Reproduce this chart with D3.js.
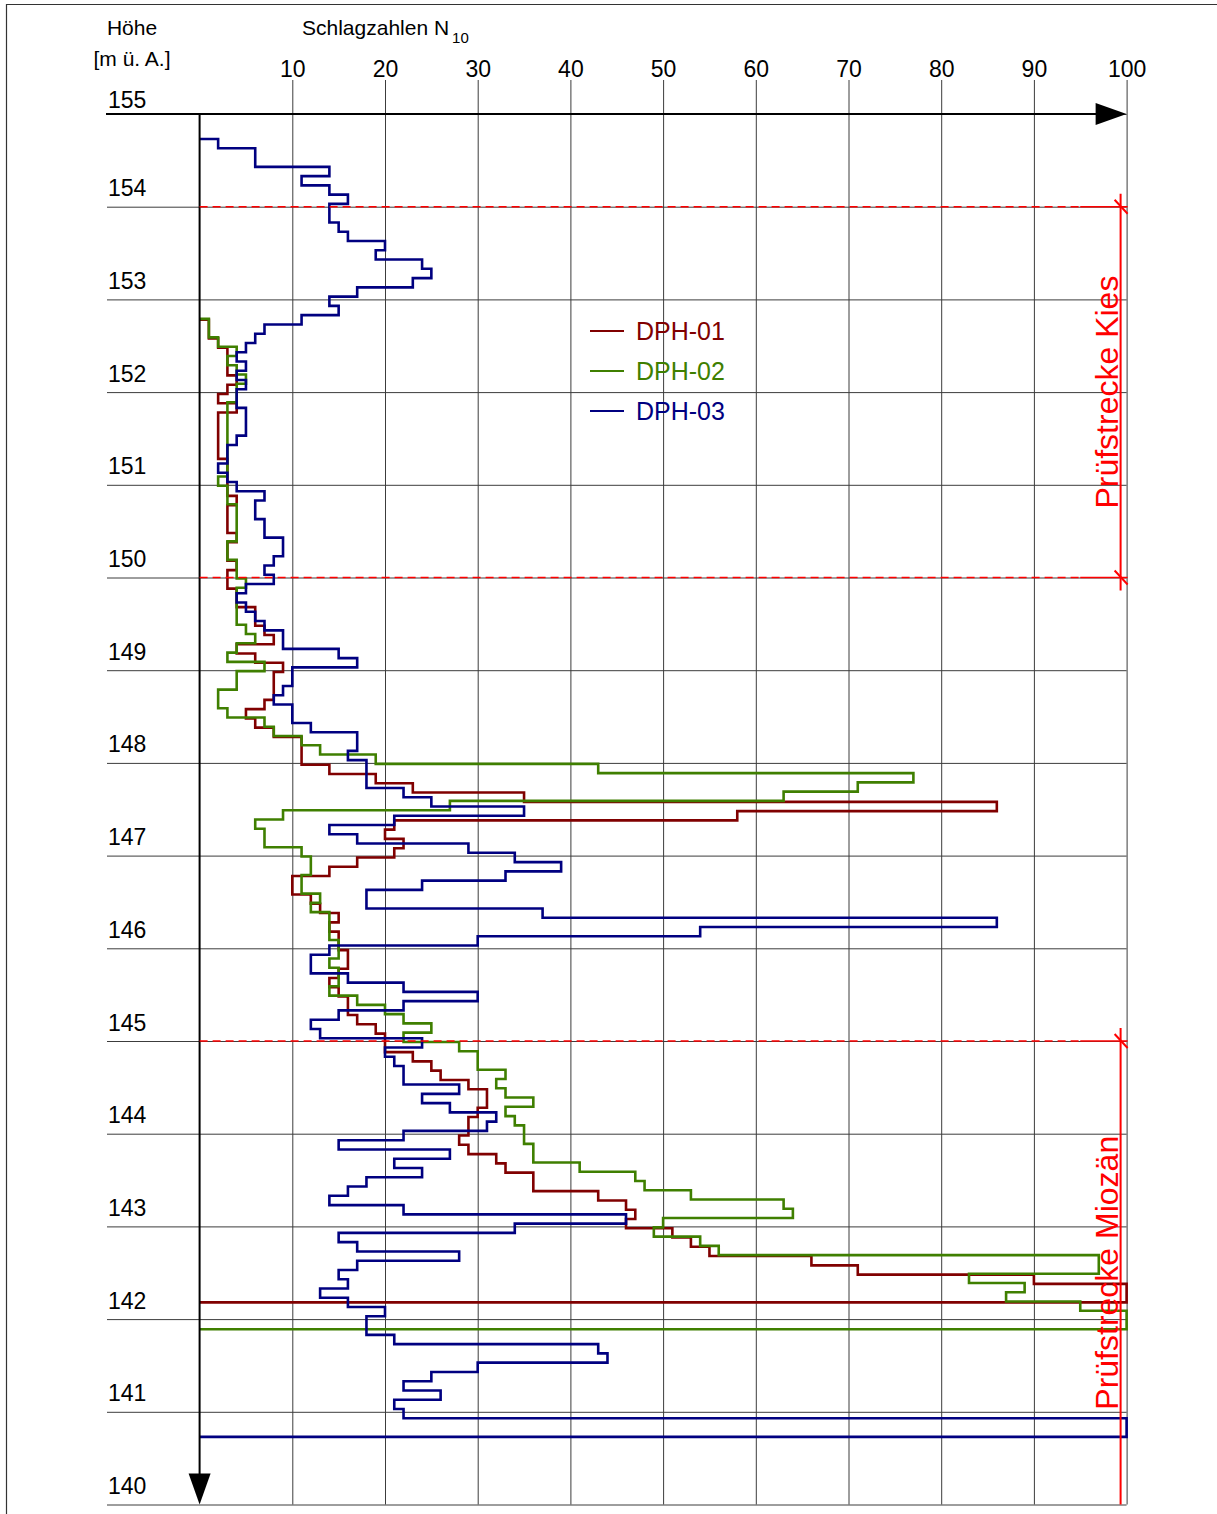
<!DOCTYPE html>
<html>
<head>
<meta charset="utf-8">
<script src="https://cdn.jsdelivr.net/npm/d3@7"></script>
<style>
  body { margin: 0; background: #fff; }
  svg { display: block; }
  text { font-family: "Liberation Sans", Arial, sans-serif; }
</style>
</head>
<body>
<svg id="chart" width="1217" height="1514"></svg>
<script>
// Elevation grid (m ü. A.) and blow-count grid (N10)
const elevationTicks = [155, 154, 153, 152, 151, 150, 149, 148, 147, 146, 145, 144, 143, 142, 141, 140];
const blowTicks = [10, 20, 30, 40, 50, 60, 70, 80, 90, 100];

// Dynamic probing series: blows per 10 cm, listed downward from the start elevation
const seriesNames = ["DPH-01", "DPH-02", "DPH-03"];
const seriesColors = ["#800000", "#3f7f00", "#000080"];
const startElevations = [152.78, 152.79, 154.73];
const stepLength = 0.1;

const dph01 = [
  1, 1, 2, 3, 3, 3, 4, 3, 2, 4,
  2, 2, 2, 2, 2, 3, 3, 3, 3, 4,
  3, 3, 3, 4, 3, 3, 4, 3, 3, 4,
  4, 6, 6, 7, 8, 4, 6, 9, 8, 8,
  8, 7, 5, 6, 8, 11, 11, 11, 14, 19,
  23, 35, 86, 58, 21, 20, 22, 21, 17, 14,
  10, 10, 12, 13, 15, 14, 15, 15, 16, 16,
  15, 14, 15, 16, 16, 17, 19, 20, 20, 23,
  25, 26, 29, 31, 31, 30, 29, 29, 28, 29,
  32, 33, 36, 36, 43, 46, 47, 46, 51, 53,
  55, 66, 71, 90, 100, 100
];

const dph02 = [
  1, 1, 2, 4, 3, 4, 5, 4, 4, 3,
  3, 3, 3, 3, 3, 3, 3, 2, 3, 3,
  4, 4, 4, 4, 3, 3, 4, 4, 5, 4,
  4, 4, 4, 5, 6, 4, 3, 7, 4, 4,
  2, 2, 3, 7, 8, 11, 13, 19, 43, 77,
  71, 63, 27, 9, 6, 7, 7, 11, 12, 12,
  11, 11, 13, 12, 14, 14, 14, 15, 15, 14,
  15, 15, 14, 17, 20, 22, 25, 22, 28, 30,
  30, 33, 32, 33, 36, 33, 34, 35, 35, 36,
  36, 41, 47, 48, 53, 63, 64, 50, 49, 54,
  56, 97, 97, 83, 89, 87, 95, 100, 100
];

const dph03 = [
  2, 6, 6, 14, 11, 14, 16, 14, 14, 15,
  16, 20, 19, 24, 25, 23, 17, 14, 15, 11,
  7, 6, 5, 4, 5, 4, 5, 4, 4, 5,
  5, 5, 4, 3, 3, 2, 3, 4, 7, 6,
  6, 7, 7, 9, 9, 8, 7, 8, 5, 4,
  5, 6, 7, 9, 9, 15, 17, 10, 10, 9,
  8, 10, 10, 12, 17, 17, 16, 18, 18, 18,
  22, 25, 35, 21, 14, 17, 29, 34, 39, 33,
  24, 18, 18, 37, 86, 54, 30, 14, 12, 12,
  16, 22, 30, 22, 15, 12, 13, 24, 20, 21,
  22, 22, 28, 24, 27, 32, 31, 22, 15, 27,
  21, 24, 18, 16, 14, 22, 46, 34, 15, 17,
  28, 17, 15, 16, 13, 16, 20, 18, 18, 21,
  43, 44, 30, 25, 22, 26, 21, 22, 100, 100
];

// Test sections marked at the right edge
const sectionLabels = ["Prüfstrecke Kies", "Prüfstrecke Miozän"];
const sectionTops = [154, 145];
const sectionBottoms = [150, 140];

const seriesValues = [dph01, dph02, dph03];

const svg = d3.select("#chart");
const x = d3.scaleLinear().domain([0, 100]).range([199.6, 1126.6]);
const y = d3.scaleLinear().domain([155, 140]).range([114, 1504.5]);

// outer frame (top and left edges)
svg.append("path")
  .attr("d", "M6.5,1514 L6.5,4.5 L1217,4.5")
  .attr("fill", "none").attr("stroke", "#333").attr("stroke-width", 1.2);

// vertical grid + top labels
const xAxis = d3.axisTop(x)
  .tickValues(blowTicks)
  .tickSize(-(y(140) - 80))
  .tickPadding(3)
  .tickFormat(d3.format("d"));
const gx = svg.append("g").attr("transform", "translate(0,80)").call(xAxis);
gx.select(".domain").remove();
gx.selectAll(".tick line").attr("stroke", "#3c3c3c").attr("stroke-width", 1);
gx.selectAll(".tick text")
  .attr("font-size", 23).attr("fill", "#000")
  .attr("font-family", "'Liberation Sans', Arial, sans-serif");

// horizontal grid + elevation labels
const yAxis = d3.axisLeft(y)
  .tickValues(elevationTicks)
  .tickSize(-(x(100) - 107))
  .tickFormat(d3.format("d"));
const gy = svg.append("g").attr("transform", "translate(107,0)").call(yAxis);
gy.select(".domain").remove();
gy.selectAll(".tick line").attr("stroke", "#3c3c3c").attr("stroke-width", 1);
gy.selectAll(".tick text")
  .attr("x", 1).attr("dy", d => d === 155 ? -7 : -11)
  .attr("text-anchor", "start")
  .attr("font-size", 23).attr("fill", "#000")
  .attr("font-family", "'Liberation Sans', Arial, sans-serif");

// axis headings
const head = svg.append("g").attr("fill", "#000").attr("font-size", 21);
head.append("text").attr("x", 132).attr("y", 35).attr("text-anchor", "middle").text("Höhe");
head.append("text").attr("x", 132).attr("y", 66).attr("text-anchor", "middle").text("[m ü. A.]");
const t = head.append("text").attr("x", 302).attr("y", 35);
t.append("tspan").text("Schlagzahlen N");
t.append("tspan").attr("font-size", 15).attr("dx", 3).attr("dy", 8).text("10");

// data step lines
function stepPoints(values, top) {
  const pts = [[0, top]];
  values.forEach((v, i) => {
    pts.push([v, top - i * stepLength]);
    pts.push([v, top - (i + 1) * stepLength]);
  });
  pts.push([0, top - values.length * stepLength]);
  return pts;
}
const line = d3.line().x(d => x(d[0])).y(d => y(d[1]));
seriesValues.forEach((vals, k) => {
  svg.append("path")
    .attr("d", line(stepPoints(vals, startElevations[k])))
    .attr("fill", "none")
    .attr("stroke", seriesColors[k])
    .attr("stroke-width", 2.6)
    .attr("stroke-linejoin", "miter");
});

// main axes with arrows
const axes = svg.append("g").attr("stroke", "#000");
axes.append("line").attr("x1", 106).attr("x2", x(100) - 25).attr("y1", y(155)).attr("y2", y(155)).attr("stroke-width", 2);
axes.append("line").attr("x1", x(0)).attr("x2", x(0)).attr("y1", y(155)).attr("y2", y(140) - 25).attr("stroke-width", 2);
svg.append("path")
  .attr("d", `M${x(100)},${y(155)} L${x(100) - 31},${y(155) - 11} L${x(100) - 31},${y(155) + 11} Z`)
  .attr("fill", "#000");
svg.append("path")
  .attr("d", `M${x(0)},${y(140)} L${x(0) - 11},${y(140) - 31} L${x(0) + 11},${y(140) - 31} Z`)
  .attr("fill", "#000");

// section markers
const red = "#ff0000";
const dimX = x(100) - 6;
const secG = svg.append("g");
sectionLabels.forEach((label, k) => {
  const bounds = [sectionTops[k], sectionBottoms[k]].filter(e => e > 140);
  bounds.forEach(e => {
    secG.append("line")
      .attr("x1", x(0)).attr("x2", x(95)).attr("y1", y(e)).attr("y2", y(e))
      .attr("stroke", red).attr("stroke-width", 1.5).attr("stroke-dasharray", "8,5");
    secG.append("line")
      .attr("x1", x(95)).attr("x2", x(100) + 1).attr("y1", y(e)).attr("y2", y(e))
      .attr("stroke", red).attr("stroke-width", 1.5);
    secG.append("line")
      .attr("x1", dimX - 6).attr("x2", dimX + 7).attr("y1", y(e) - 7).attr("y2", y(e) + 7)
      .attr("stroke", red).attr("stroke-width", 2);
  });
  const yTop = y(sectionTops[k]) - 13;
  const yBot = sectionBottoms[k] > 140 ? y(sectionBottoms[k]) + 13 : y(140);
  secG.append("line")
    .attr("x1", dimX).attr("x2", dimX).attr("y1", yTop).attr("y2", yBot)
    .attr("stroke", red).attr("stroke-width", 2);
  const mid = (y(sectionTops[k]) + y(sectionBottoms[k])) / 2;
  secG.append("text")
    .attr("transform", `translate(${dimX - 3},${mid}) rotate(-90)`)
    .attr("text-anchor", "middle")
    .attr("font-size", 32)
    .attr("fill", red)
    .text(label);
});

// legend
const legend = svg.append("g").attr("transform", "translate(590,331)");
seriesNames.forEach((name, k) => {
  const row = legend.append("g").attr("transform", `translate(0,${k * 40})`);
  row.append("line").attr("x1", 0).attr("x2", 34).attr("y1", 0).attr("y2", 0)
    .attr("stroke", seriesColors[k]).attr("stroke-width", 2.2);
  row.append("text").attr("x", 46).attr("y", 9).attr("font-size", 25)
    .attr("fill", seriesColors[k]).text(name);
});
</script>
</body>
</html>
